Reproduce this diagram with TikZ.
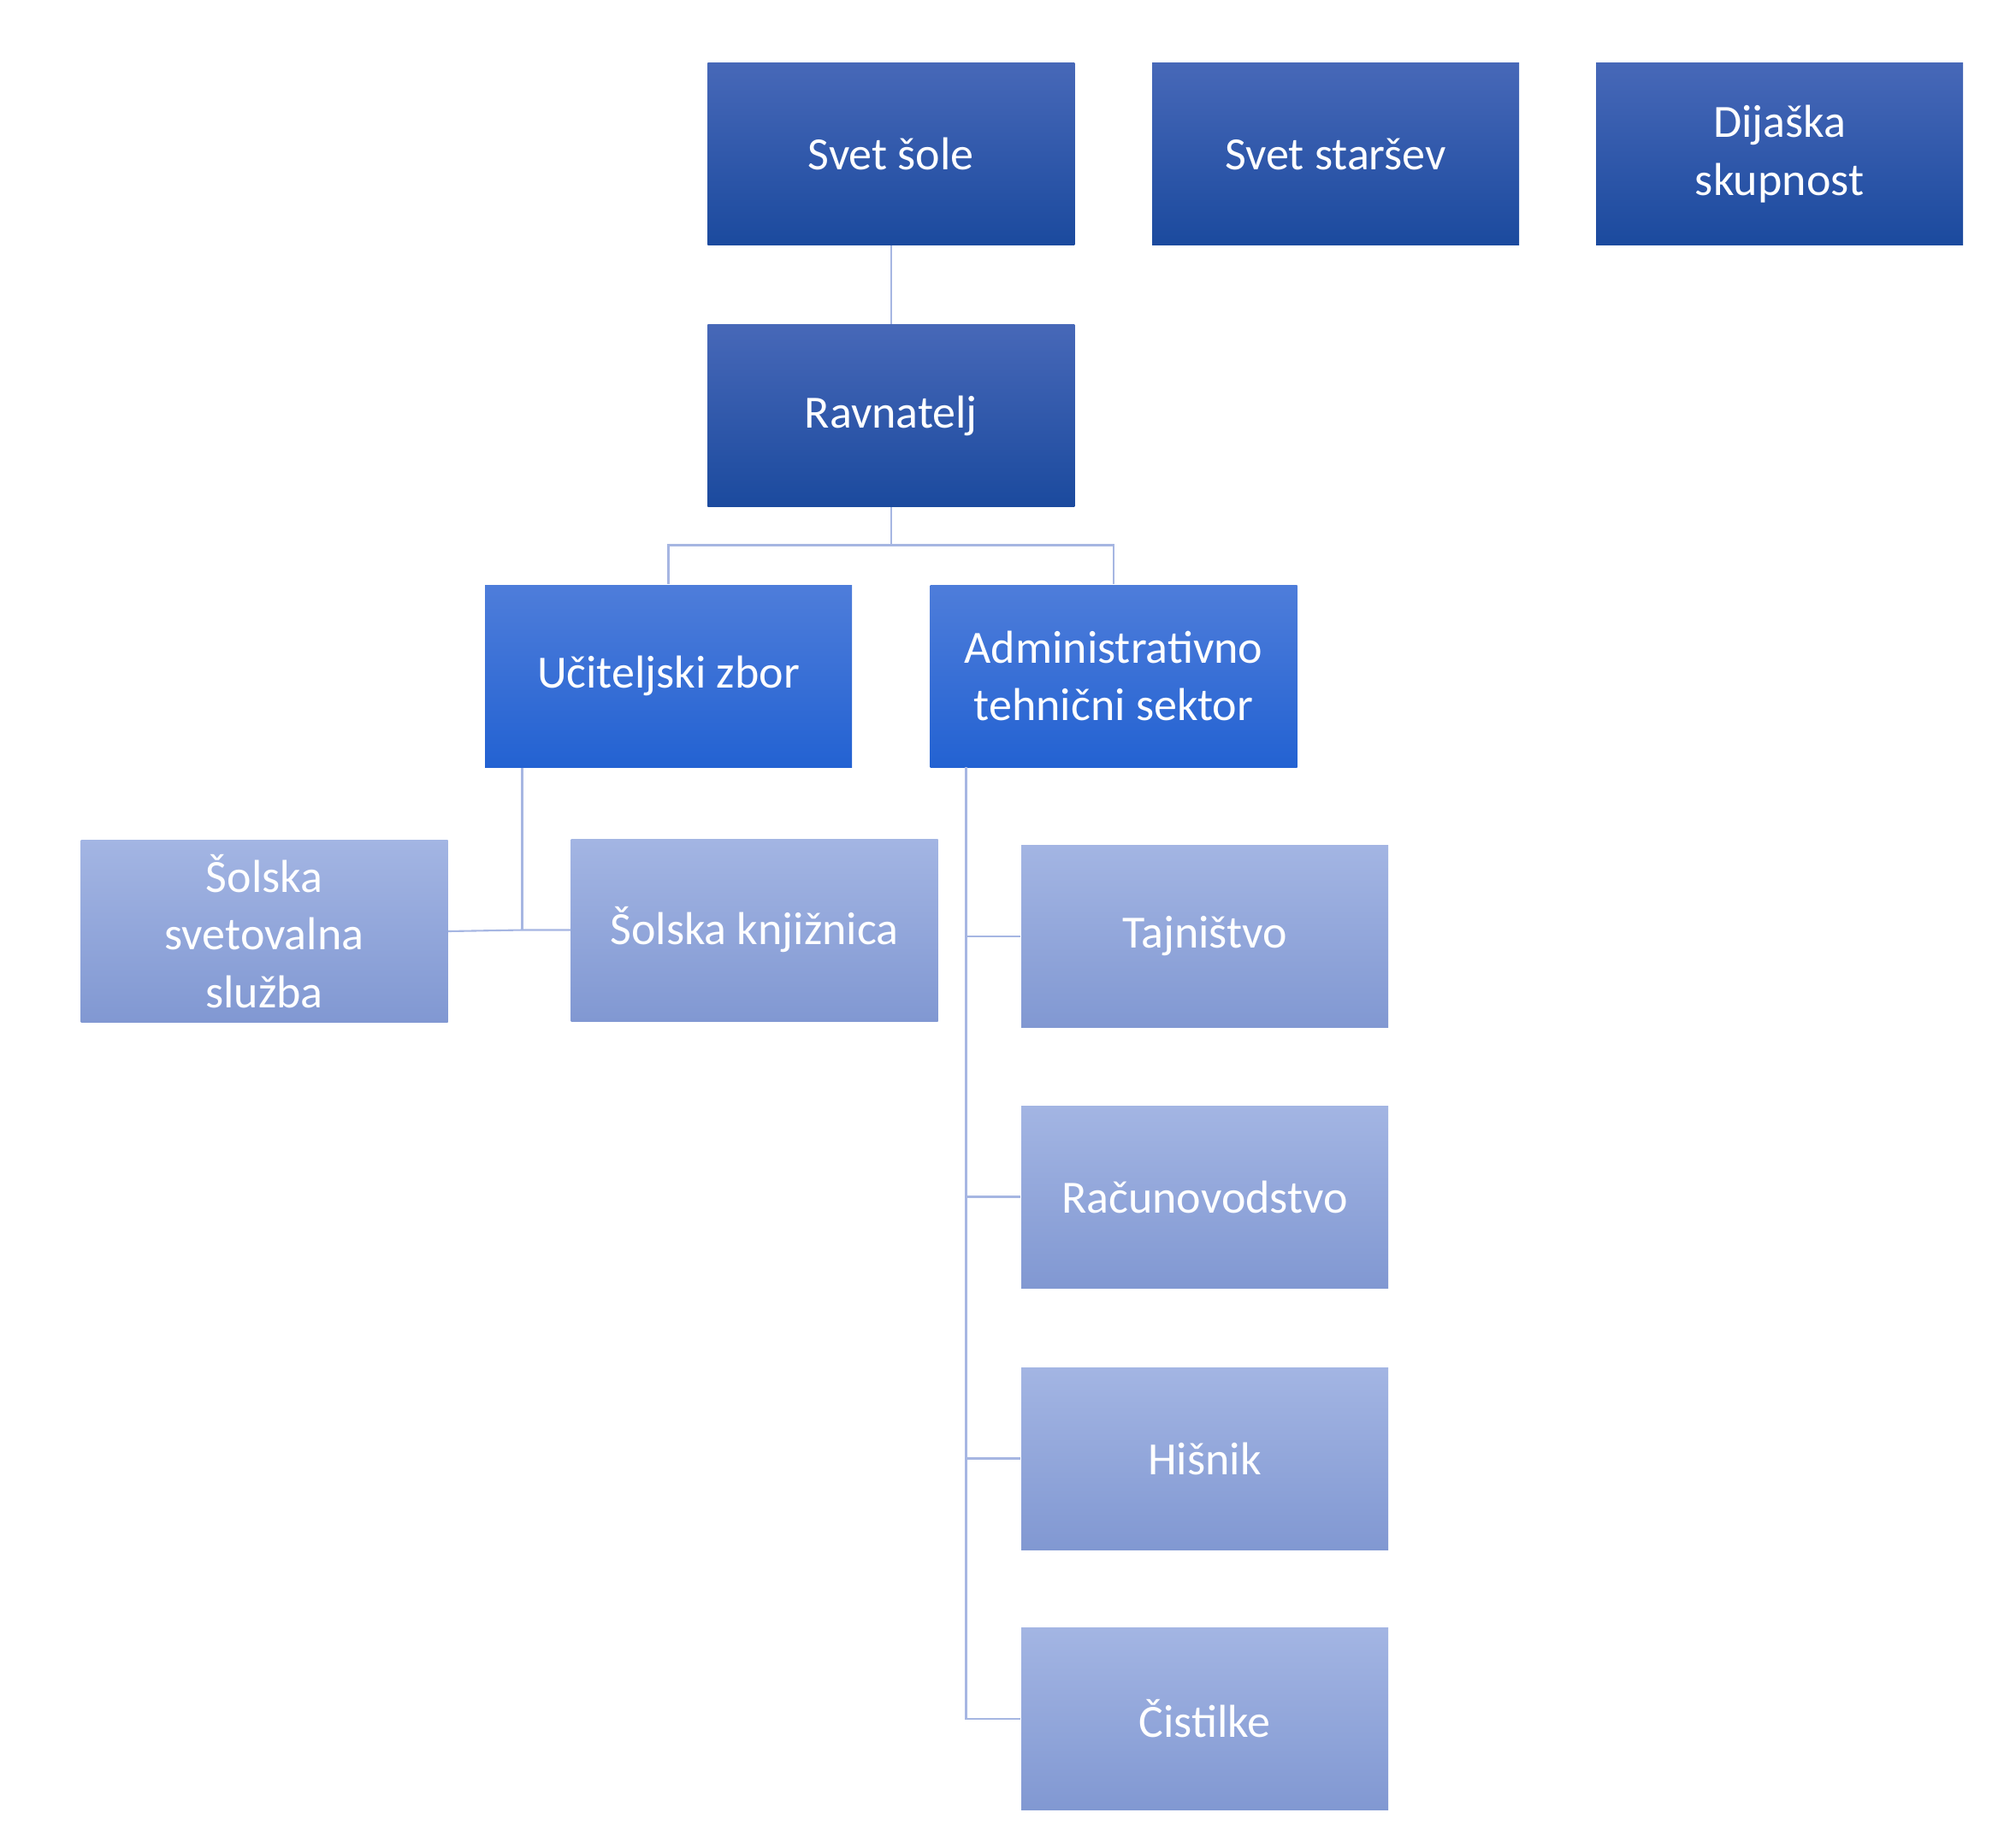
\documentclass[tikz,border=0pt]{standalone}
\usepackage{fontspec}
\setmainfont{Carlito}
\usetikzlibrary{positioning}
\definecolor{darkTop}{HTML}{4768B8}
\definecolor{darkBot}{HTML}{1B4A9E}
\definecolor{midTop}{HTML}{4E7DDA}
\definecolor{midBot}{HTML}{2362D2}
\definecolor{lightTop}{HTML}{A3B5E3}
\definecolor{lightBot}{HTML}{8198D2}
\definecolor{linkCol}{HTML}{A6B6E2}
\tikzset{
  box/.style={rectangle, minimum width=143pt, minimum height=71pt, inner sep=2pt,
    text=white, align=center, font=\fontsize{18}{22.5}\selectfont},
  top/.style={box, top color=darkTop, bottom color=darkBot},
  mid/.style={box, top color=midTop, bottom color=midBot},
  low/.style={box, top color=lightTop, bottom color=lightBot},
  link/.style={draw=linkCol, line width=0.7pt}
}
\begin{document}
\begin{tikzpicture}[x=0.5pt, y=-0.5pt]
  \useasboundingbox (0,0) rectangle (1562,1440);

  \node[top] (svet) at (694.5,120) {Svet šole};
  \node[top] (starsi) at (1041,120) {Svet staršev};
  \node[top] (dijaki) at (1387,120) {Dijaška\\skupnost};
  \node[top] (ravn) at (694.5,324) {Ravnatelj};

  \node[mid] (ucit) at (521,527) {Učiteljski zbor};
  \node[mid] (admin) at (868,527) {Administrativno\\tehnični sektor};

  \node[low] (svetov) at (206,726) {Šolska\\svetovalna\\služba};
  \node[low] (knjiz) at (588,725) {Šolska knjižnica};

  \node[low] (t1) at (939,730) {Tajništvo};
  \node[low] (t2) at (939,933) {Računovodstvo};
  \node[low] (t3) at (939,1137) {Hišnik};
  \node[low] (t4) at (939,1340) {Čistilke};

  \draw[link] (svet) -- (ravn);
  \coordinate (r) at (694.5,425);
  \draw[link] (ravn) -- (r) -| (ucit);
  \draw[link] (r) -| (admin);

  \coordinate (u) at (407,725);
  \draw[link] (ucit.south -| u) -- (u);
  \draw[link] (svetov.east) -- (u) -- (knjiz.west);

  \coordinate (a) at (753,598);
  \foreach \i in {1,...,4} {
    \draw[link] (a) |- (t\i.west);
  }
\end{tikzpicture}
\end{document}
